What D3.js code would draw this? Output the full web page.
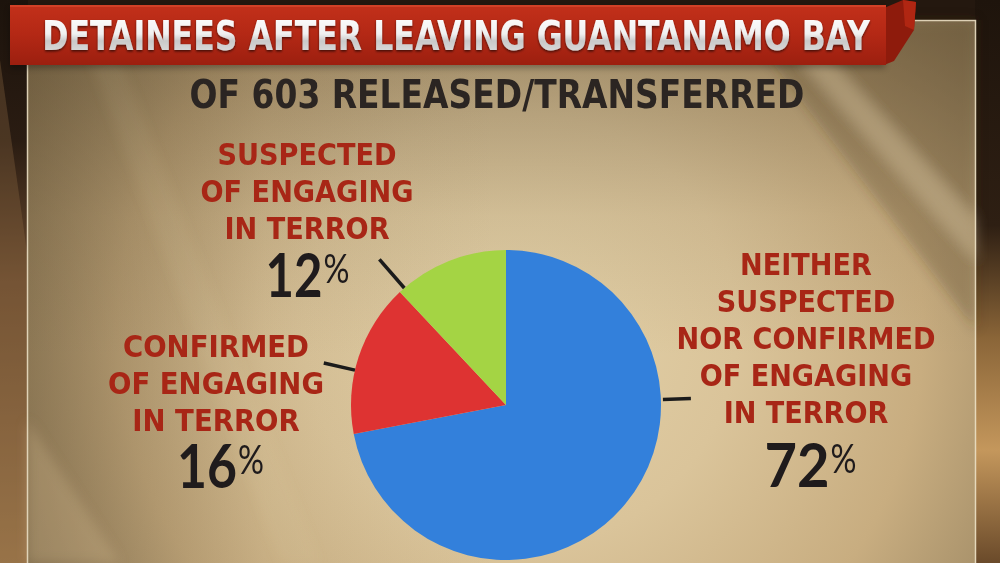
<!DOCTYPE html>
<html><head><meta charset="utf-8">
<script src="https://cdn.jsdelivr.net/npm/d3@7"></script>
<style>html,body{margin:0;padding:0;background:#24180f;overflow:hidden}</style>
</head><body><svg id="c" width="1000" height="563"></svg>
<script>
// ---------- DATA ----------
const categories = ["Neither suspected nor confirmed", "Confirmed", "Suspected"];
const values = [72, 16, 12];
const labelLines = [
  ["NEITHER", "SUSPECTED", "NOR CONFIRMED", "OF ENGAGING", "IN TERROR"],
  ["CONFIRMED", "OF ENGAGING", "IN TERROR"],
  ["SUSPECTED", "OF ENGAGING", "IN TERROR"]
];
const title = "DETAINEES AFTER LEAVING GUANTANAMO BAY";
const subtitle = "OF 603 RELEASED/TRANSFERRED";

// ---------- STYLE / LAYOUT ----------
const sliceColors = ["#3380db", "#de3332", "#a4d444"];
const FONT = "'Liberation Sans Narrow','DejaVu Sans Condensed','DejaVu Sans',sans-serif";
const NUMFONT = "Lato,'Open Sans','DejaVu Sans',sans-serif";
const cx = 506, cy = 405, R = 155;
const labelLayout = [
  {x: 806, y: 275, fitLine: 2, fitW: 259, numX: 797, numY: 487, numW: 65, leaderDeg: 88, r0: 157, r1: 185},
  {x: 216, y: 357, fitLine: 1, fitW: 216, numX: 207, numY: 488, numW: 60, leaderDeg: 283, r0: 155, r1: 187},
  {x: 307, y: 165, fitLine: 1, fitW: 213, numX: 294, numY: 297, numW: 57, leaderDeg: 319, r0: 155, r1: 193}
];
const lineGap = 37;

const svg = d3.select("#c");
const defs = svg.append("defs");

function lin(id, x1, y1, x2, y2, stops) {
  const g = defs.append("linearGradient").attr("id", id)
    .attr("x1", x1).attr("y1", y1).attr("x2", x2).attr("y2", y2);
  stops.forEach(s => g.append("stop").attr("offset", s[0]).attr("stop-color", s[1]).attr("stop-opacity", s[2] == null ? 1 : s[2]));
}
const rg = defs.append("radialGradient").attr("id", "panelG").attr("gradientUnits", "userSpaceOnUse")
  .attr("cx", 520).attr("cy", 330).attr("r", 620);
[[0, "#e3d1a8"], [0.35, "#dac49a"], [0.65, "#c8ad80"], [1, "#8d7a58"]].forEach(s =>
  rg.append("stop").attr("offset", s[0]).attr("stop-color", s[1]));
lin("topShade", 0, 0, 0, 1, [[0, "#5a4a30", 0.45], [0.35, "#5a4a30", 0.1], [0.6, "#5a4a30", 0]]);
lin("leftShade", 0, 0, 1, 0, [[0, "#4a3a22", 0.35], [0.25, "#4a3a22", 0.05], [0.5, "#4a3a22", 0]]);
lin("bannerG", 0, 0, 0, 1, [[0, "#c2301a"], [0.5, "#b32815"], [1, "#9c1f0f"]]);
lin("titleG", 0, 0, 0, 1, [[0, "#ffffff"], [0.45, "#f0f0f0"], [0.6, "#c9c9c9"], [1, "#e6e6e6"]]);
lin("leftStrip", 0, 0, 0, 1, [[0, "#1c130c"], [0.25, "#2a1c12"], [0.5, "#6a4a2e"], [1, "#a07a4c"]]);
lin("rightStrip", 0, 0, 0, 1, [[0, "#1e140c"], [0.4, "#2e1f13"], [0.6, "#8a6538"], [0.8, "#c4975c"], [1, "#6a4a2a"]]);

const f1 = defs.append("filter").attr("id", "sh").attr("x", "-10%").attr("y", "-30%").attr("width", "120%").attr("height", "160%");
f1.append("feDropShadow").attr("dx", 0).attr("dy", 1.5).attr("stdDeviation", 1.2).attr("flood-color", "#000").attr("flood-opacity", 0.6);
const f2 = defs.append("filter").attr("id", "bsh").attr("x", "-5%").attr("y", "-20%").attr("width", "110%").attr("height", "160%");
f2.append("feDropShadow").attr("dx", 0).attr("dy", 3).attr("stdDeviation", 3).attr("flood-color", "#000").attr("flood-opacity", 0.6);
const f3 = defs.append("filter").attr("id", "blur");
f3.append("feGaussianBlur").attr("stdDeviation", 6);

// ---------- BACKGROUND ----------
svg.append("rect").attr("width", 1000).attr("height", 563).attr("fill", "#24180f");
svg.append("rect").attr("x", 0).attr("y", 0).attr("width", 28).attr("height", 563).attr("fill", "url(#leftStrip)");
svg.append("path").attr("d", "M0,60 Q20,200 28,260 L28,563 L0,563 Z").attr("fill", "#8a6842").attr("opacity", 0.35);
svg.append("rect").attr("x", 975).attr("y", 0).attr("width", 25).attr("height", 563).attr("fill", "url(#rightStrip)");

svg.append("rect").attr("x", 27).attr("y", 20).attr("width", 949).attr("height", 560).attr("fill", "url(#panelG)");
svg.append("rect").attr("x", 27).attr("y", 20).attr("width", 949).attr("height", 560).attr("fill", "url(#topShade)");
svg.append("rect").attr("x", 27).attr("y", 20).attr("width", 949).attr("height", 560).attr("fill", "url(#leftShade)");
const streaks = svg.append("g").attr("filter", "url(#blur)");
streaks.append("path").attr("d", "M740,20 L976,20 L976,330 Z").attr("fill", "#4a3a22").attr("opacity", 0.28);
streaks.append("path").attr("d", "M800,60 L830,60 L976,220 L976,260 Z").attr("fill", "#f3e2bc").attr("opacity", 0.3);
streaks.append("path").attr("d", "M90,60 L120,60 L320,563 L280,563 Z").attr("fill", "#efdcb4").attr("opacity", 0.07);
streaks.append("path").attr("d", "M27,420 L120,563 L27,563 Z").attr("fill", "#e0c597").attr("opacity", 0.25);
svg.append("rect").attr("x", 27.5).attr("y", 20.5).attr("width", 948).attr("height", 570)
  .attr("fill", "none").attr("stroke", "#eee3c8").attr("stroke-width", 1.5).attr("opacity", 0.85);

// ---------- BANNER ----------
svg.append("rect").attr("x", 10).attr("y", 6).attr("width", 875).attr("height", 59).attr("fill", "#000").attr("opacity", 0.5).attr("filter", "url(#bsh)");
svg.append("path").attr("d", "M884,8 L903,0 L916,2 L914,30 L894,61 L884,65 Z").attr("fill", "#8e1b0c");
svg.append("path").attr("d", "M903,0 L916,2 L914,30 L905,26 Z").attr("fill", "#b02612");
svg.append("rect").attr("x", 10).attr("y", 5).attr("width", 876).attr("height", 60).attr("fill", "url(#bannerG)");
svg.append("rect").attr("x", 10).attr("y", 5).attr("width", 876).attr("height", 2).attr("fill", "#d8482e").attr("opacity", 0.7);

function fitX(sel, target, xc) {
  const w = sel.node().getComputedTextLength();
  const s = target / w;
  sel.attr("transform", `translate(${xc},0) scale(${s},1) translate(${-xc},0)`);
  return s;
}

const t = svg.append("text").attr("x", 456).attr("y", 50).attr("text-anchor", "middle")
  .attr("font-family", FONT).attr("font-weight", "bold").attr("font-size", 40)
  .attr("fill", "url(#titleG)").attr("filter", "url(#sh)").text(title);
fitX(t, 828, 456);

const st = svg.append("text").attr("x", 497).attr("y", 108).attr("text-anchor", "middle")
  .attr("font-family", FONT).attr("font-weight", "bold").attr("font-size", 39)
  .attr("fill", "#2b2522").text(subtitle);
fitX(st, 615, 497);

// ---------- PIE ----------
const pie = d3.pie().sort(null).value(d => d).startAngle(0).endAngle(2 * Math.PI);
const arcs = pie(values);
const arc = d3.arc().innerRadius(0).outerRadius(R);
const g = svg.append("g").attr("transform", `translate(${cx},${cy})`);
g.selectAll("path.slice").data(arcs).join("path").attr("class", "slice")
  .attr("d", arc).attr("fill", (d, i) => sliceColors[i]);

const pt = (deg, r) => {
  const a = deg * Math.PI / 180;
  return [Math.sin(a) * r, -Math.cos(a) * r];
};
g.selectAll("line.leader").data(labelLayout).join("line").attr("class", "leader")
  .attr("x1", d => pt(d.leaderDeg, d.r0)[0]).attr("y1", d => pt(d.leaderDeg, d.r0)[1])
  .attr("x2", d => pt(d.leaderDeg, d.r1)[0]).attr("y2", d => pt(d.leaderDeg, d.r1)[1])
  .attr("stroke", "#1b1b1b").attr("stroke-width", 3.5);

labelLayout.forEach((L, i) => {
  const lg = svg.append("g");
  const texts = labelLines[i].map((ln, j) =>
    lg.append("text").attr("x", L.x).attr("y", L.y + j * lineGap).attr("text-anchor", "middle")
      .attr("font-family", FONT).attr("font-weight", "bold").attr("font-size", 30)
      .attr("fill", "#a82616").text(ln));
  const w = texts[L.fitLine].node().getComputedTextLength();
  const s = L.fitW / w;
  lg.attr("transform", `translate(${L.x},0) scale(${s},1) translate(${-L.x},0)`);

  const num = svg.append("text").attr("x", L.numX).attr("y", L.numY).attr("text-anchor", "middle")
    .attr("font-family", NUMFONT).attr("font-weight", "bold").attr("font-size", 61)
    .attr("fill", "#1f1b1c").text(String(values[i]));
  const ds = fitX(num, L.numW, L.numX);
  const nw = num.node().getComputedTextLength() * ds;
  const px = L.numX + nw / 2 + 1;
  const pc = svg.append("text").attr("x", px).attr("y", L.numY - 14)
    .attr("font-family", NUMFONT).attr("font-size", 40).attr("fill", "#1f1b1c").text("%");
  fitX(pc, 26, px);
});
</script>
</body></html>
